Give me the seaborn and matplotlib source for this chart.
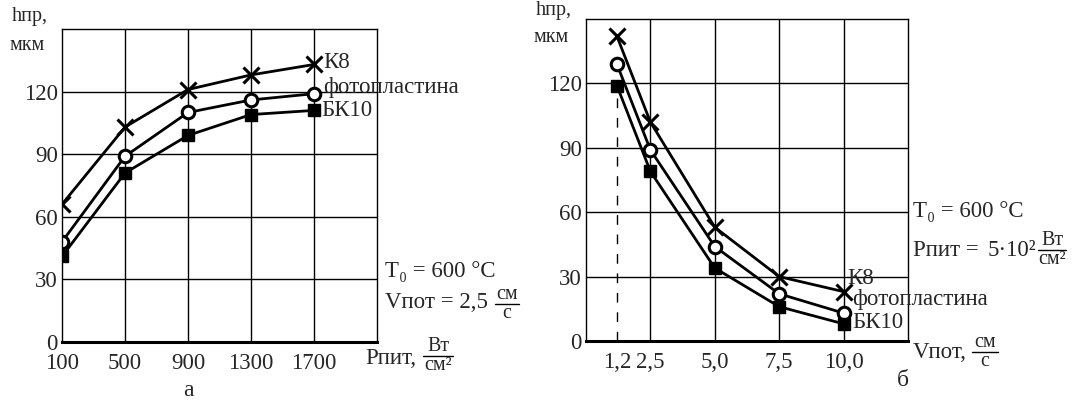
"""
Penetration depth vs. power density (a) and vs. flow velocity (б)
"""

import pandas as pd
import numpy as np
import matplotlib
matplotlib.use('Agg')
import matplotlib.pyplot as plt
from matplotlib.lines import Line2D
import seaborn as sns

sns.set_style('white')
plt.rcParams['font.family'] = ['Liberation Serif', 'DejaVu Serif']
plt.rcParams['font.size'] = 16.5

W, H = 1084, 403
FS = 16.5
FS_FRAC = 14.5

# ---- panel a: h vs P ----
p_power = [100, 500, 900, 1300, 1700]
h_k8_a = [66, 103, 121, 128, 133]
h_photo_a = [48, 89, 110, 116, 119]
h_bk10_a = [41, 81, 99, 109, 111]

# ---- panel б: h vs V ----
v_flow = [1.2, 2.5, 5.0, 7.5, 10.0]
h_k8_b = [142, 102, 53, 30, 23]
h_photo_b = [129, 89, 44, 22, 13]
h_bk10_b = [119, 79, 34, 16, 8]

materials = ['К8', 'фотопластина', 'БК10']
y_ticks = [0, 30, 60, 90, 120]
x_ticks_a = [100, 500, 900, 1300, 1700]
x_ticks_b = [1.2, 2.5, 5.0, 7.5, 10.0]
x_labels_b = ['1,2', '2,5', '5,0', '7,5', '10,0']
x_grid_b = [2.5, 5.0, 7.5, 10.0]

MARKERS = {
    'К8': dict(marker='x', markersize=11, mew=2.2, mfc='black', mec='black'),
    'фотопластина': dict(marker='o', markersize=9, mew=2.2, mfc='white', mec='black'),
    'БК10': dict(marker='s', markersize=9, mew=1, mfc='black', mec='black'),
}

fig = plt.figure(figsize=(W / 100, H / 100), dpi=100)
ax_a = fig.add_axes([0.0572, 0.1514, 0.2906, 0.7766])
ax_b = fig.add_axes([0.5406, 0.1538, 0.2970, 0.7990])


def put(x, y, s, size=FS, **kw):
    # place text by pixel position (y measured from top)
    fig.text(x / W, 1 - y / H, s, fontsize=size, va='center', **kw)


def frac(num, den, cx, y_line, w, size=FS_FRAC):
    put(cx, y_line - 9.5, num, size, ha='center')
    put(cx, y_line + 10, den, size, ha='center')
    fig.add_artist(Line2D([(cx - w / 2) / W, (cx + w / 2) / W],
                          [1 - y_line / H, 1 - y_line / H],
                          transform=fig.transFigure, color='black', lw=1))


def draw_series(ax, x, ys):
    for name, y in zip(materials, ys):
        sns.lineplot(x=x, y=y, ax=ax, color='black', lw=2, **MARKERS[name])


def style_axes(ax, xgrid):
    ax.set_ylim(0, 150)
    ax.set_yticks(y_ticks)
    for yv in y_ticks[1:]:
        ax.axhline(yv, color='black', lw=1, zorder=0)
    for xv in xgrid:
        ax.axvline(xv, color='black', lw=1, zorder=0)
    ax.tick_params(length=0, labelsize=FS)
    ax.tick_params(axis='x', pad=8)
    ax.tick_params(axis='y', pad=3)
    for side in ['left', 'right', 'top']:
        ax.spines[side].set_linewidth(1)
        ax.spines[side].set_color('black')
    ax.spines['bottom'].set_linewidth(2.2)
    ax.spines['bottom'].set_color('black')
    ax.set_xlabel('')
    ax.set_ylabel('')
    ax.grid(False)


# panel a
draw_series(ax_a, p_power, [h_k8_a, h_photo_a, h_bk10_a])
ax_a.set_xlim(100, 2100)
ax_a.set_xticks(x_ticks_a)
style_axes(ax_a, x_ticks_a[1:])

put(12, 17, 'hпр,', 14.5)
put(10, 45, 'мкм', 14.5)
put(323, 62, 'К8')
put(323, 88, 'фотопластина')
put(321, 110, 'БК10')
put(385, 272, 'T₀ = 600 °C')
put(385, 302, 'Vпот = 2,5')
frac('см', 'с', 507, 304, 24)
put(365, 358, 'Pпит,')
frac('Вт', 'см²', 438, 356, 30)
put(188, 391, 'а', 17, ha='center')

# panel б
draw_series(ax_b, v_flow, [h_k8_b, h_photo_b, h_bk10_b])
ax_b.vlines(v_flow[0], 0, h_bk10_b[0], colors='black', lw=1,
            linestyles=(0, (7, 7)), zorder=0)
ax_b.set_xlim(0, 12.5)
ax_b.set_xticks(x_ticks_b)
ax_b.set_xticklabels(x_labels_b)
style_axes(ax_b, x_grid_b)

put(536, 11, 'hпр,', 14.5)
put(533, 37, 'мкм', 14.5)
put(913, 212, 'T₀ = 600 °C')
put(913, 251, 'Pпит =')
put(988, 251, '5·10²')
frac('Вт', 'см²', 1052, 250, 28)
put(847, 278, 'К8')
put(852, 300, 'фотопластина')
put(852, 322, 'БК10')
put(913, 353, 'Vпот,')
frac('см', 'с', 985, 352, 26)
put(903, 380, 'б', 17, ha='center')

fig.savefig('out.png', dpi=100, facecolor='white')
